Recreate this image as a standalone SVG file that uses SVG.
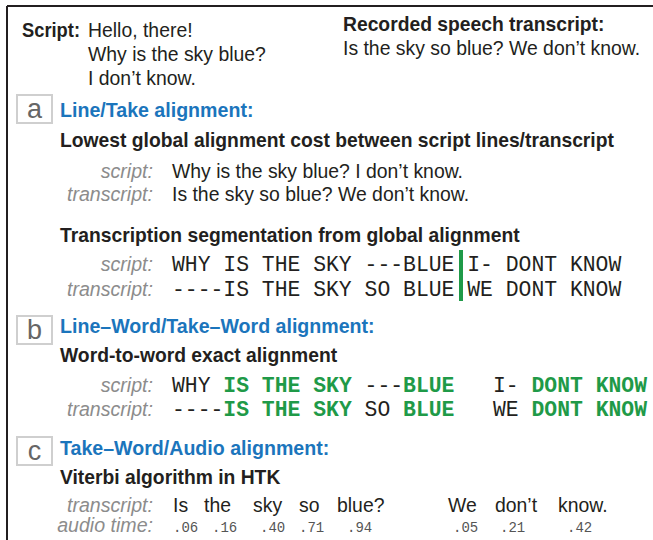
<svg xmlns="http://www.w3.org/2000/svg" width="653" height="540" viewBox="0 0 653 540">
<style>
.sans{font-family:"Liberation Sans",Arial,sans-serif;fill:#231f20}
.body{font-size:19.4px}
.hd{font-size:19.3px;font-weight:bold}
.blue{fill:#1b75bc;font-size:19.6px;font-weight:bold;font-family:"Liberation Sans",Arial,sans-serif}
.lab{font-family:"Liberation Sans",Arial,sans-serif;font-style:italic;font-size:19.6px;fill:#8c8c8c;text-anchor:end}
.mono{font-family:"Liberation Mono","Courier New",monospace;font-size:21.4px;fill:#231f20}
.g{fill:#1f9a48;font-weight:bold}
.tm{font-family:"Liberation Mono","Courier New",monospace;font-size:14px;fill:#555}
.box{fill:#fff;stroke:#cfcfcf;stroke-width:2}
.letter{font-family:"Liberation Sans",Arial,sans-serif;font-size:27px;fill:#666;text-anchor:middle}
</style>
<g id="frame">
<line x1="7" y1="6" x2="653" y2="6" stroke="#231f20" stroke-width="2"/>
<line x1="7" y1="6" x2="7" y2="540" stroke="#231f20" stroke-width="2"/>
</g>
<g id="inputs">
<text class="sans hd" x="22" y="37" textLength="58" lengthAdjust="spacingAndGlyphs">Script:</text>
<text class="sans body" x="88" y="37">Hello, there!</text>
<text class="sans body" x="88" y="61">Why is the sky blue?</text>
<text class="sans body" x="88" y="85">I don’t know.</text>
<text class="sans hd" x="343" y="31">Recorded speech transcript:</text>
<text class="sans body" x="343" y="55">Is the sky so blue? We don’t know.</text>
</g>
<g id="section-a">
<rect class="box" x="17" y="95" width="35" height="28"/>
<text class="letter" x="34.5" y="118">a</text>
<text class="blue" x="60" y="117">Line/Take alignment:</text>
<text class="sans hd" x="60" y="147">Lowest global alignment cost between script lines/transcript</text>
<text class="lab" x="153" y="178">script:</text>
<text class="sans body" x="172" y="178">Why is the sky blue? I don’t know.</text>
<text class="lab" x="153" y="201">transcript:</text>
<text class="sans body" x="172" y="201">Is the sky so blue? We don’t know.</text>
<text class="sans hd" x="60" y="242">Transcription segmentation from global alignment</text>
<text class="lab" x="153" y="271">script:</text>
<text class="mono" x="172" y="271" xml:space="preserve">WHY IS THE SKY ---BLUE I- DONT KNOW</text>
<text class="lab" x="153" y="296">transcript:</text>
<text class="mono" x="172" y="296" xml:space="preserve">----IS THE SKY SO BLUE WE DONT KNOW</text>
<rect x="459" y="250" width="4" height="51" fill="#1f9a48"/>
</g>
<g id="section-b">
<rect class="box" x="17" y="316" width="35" height="28"/>
<text class="letter" x="34.5" y="339">b</text>
<text class="blue" x="60" y="333">Line–Word/Take–Word alignment:</text>
<text class="sans hd" x="60" y="362">Word-to-word exact alignment</text>
<text class="lab" x="153" y="392">script:</text>
<text class="mono" x="172" y="392" xml:space="preserve">WHY <tspan class="g">IS THE SKY</tspan> ---<tspan class="g">BLUE</tspan>   I- <tspan class="g">DONT KNOW</tspan></text>
<text class="lab" x="153" y="416">transcript:</text>
<text class="mono" x="172" y="416" xml:space="preserve">----<tspan class="g">IS THE SKY</tspan> SO <tspan class="g">BLUE</tspan>   WE <tspan class="g">DONT KNOW</tspan></text>
</g>
<g id="section-c">
<rect class="box" x="17" y="437" width="35" height="28"/>
<text class="letter" x="34.5" y="460">c</text>
<text class="blue" x="60" y="455">Take–Word/Audio alignment:</text>
<text class="sans hd" x="60" y="484">Viterbi algorithm in HTK</text>
<text class="lab" x="153" y="512">transcript:</text>
<g class="sans body">
<text x="173" y="512">Is</text>
<text x="204" y="512">the</text>
<text x="253" y="512">sky</text>
<text x="299" y="512">so</text>
<text x="337" y="512">blue?</text>
<text x="448" y="512">We</text>
<text x="495" y="512">don’t</text>
<text x="558" y="512">know.</text>
</g>
<text class="lab" x="153" y="532">audio time:</text>
<g class="tm">
<text x="173" y="532">.06</text>
<text x="212" y="532">.16</text>
<text x="260" y="532">.40</text>
<text x="299" y="532">.71</text>
<text x="347" y="532">.94</text>
<text x="453" y="532">.05</text>
<text x="500" y="532">.21</text>
<text x="567" y="532">.42</text>
</g>
</g>
</svg>
